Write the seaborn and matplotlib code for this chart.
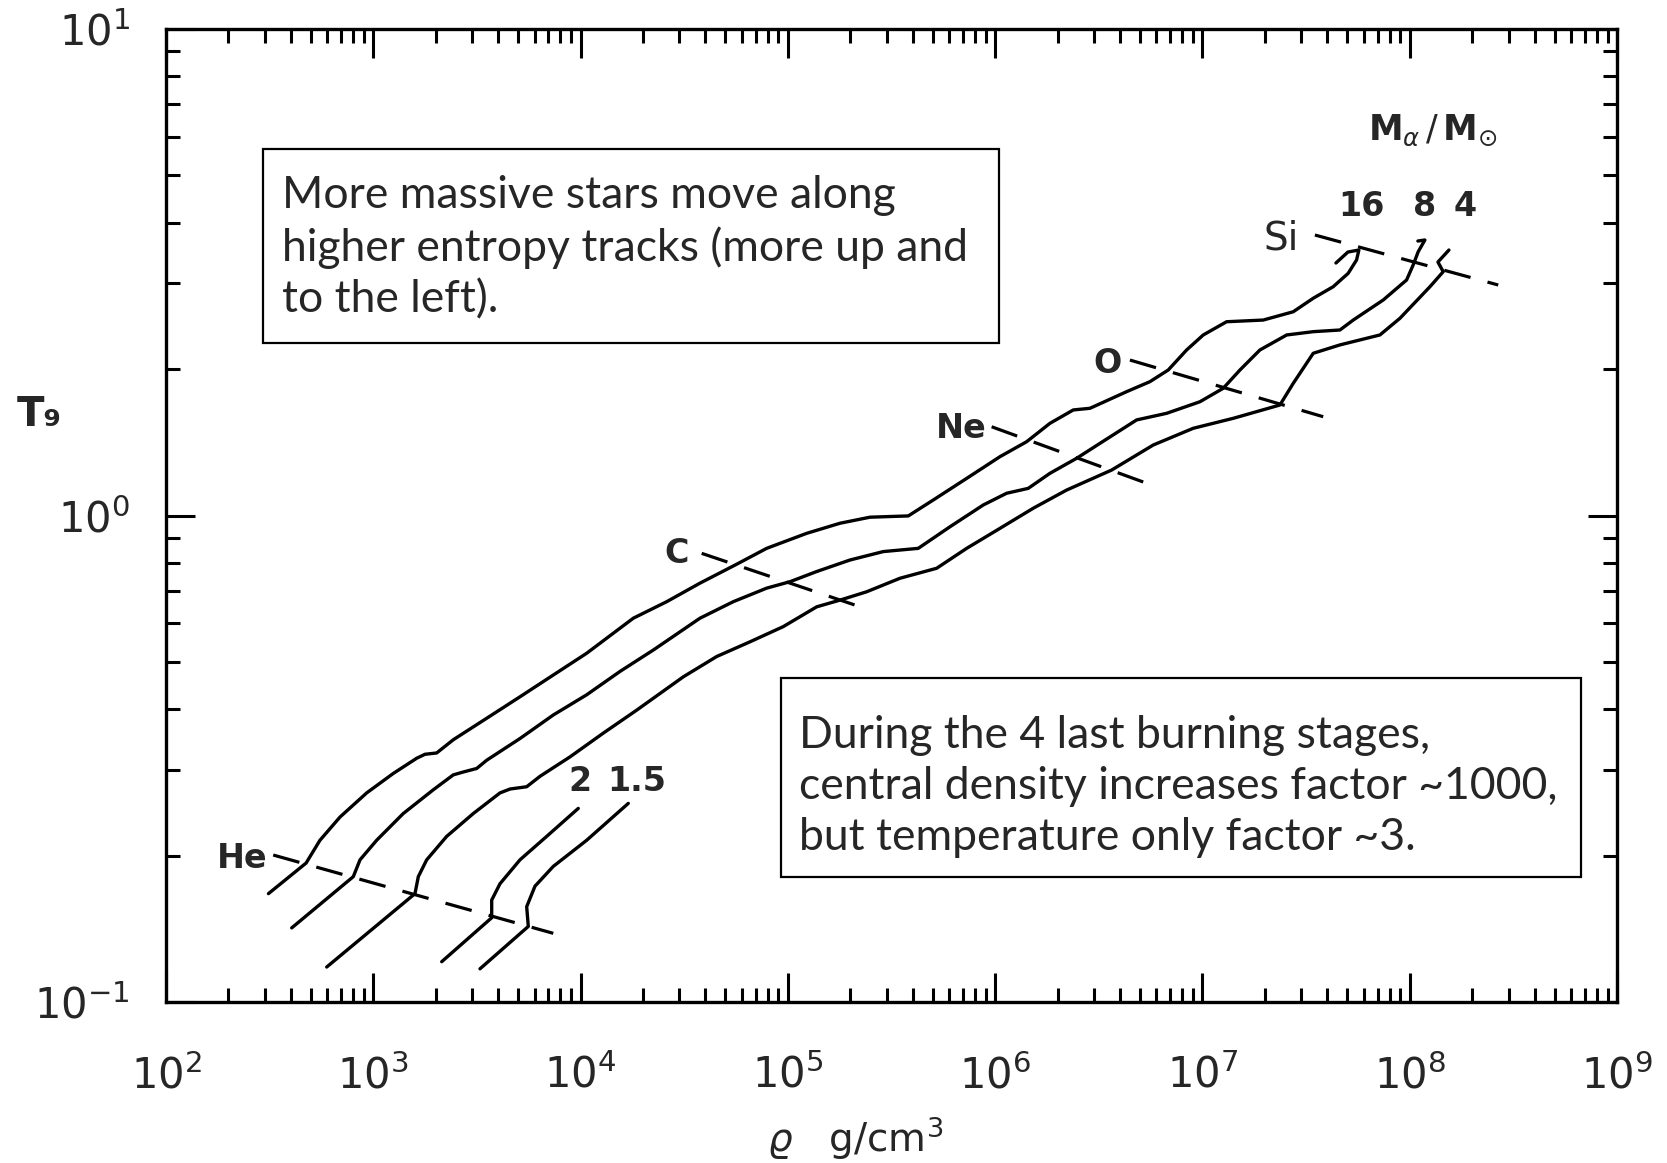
import matplotlib
matplotlib.use("Agg")
import matplotlib.pyplot as plt
from matplotlib import font_manager
from matplotlib.ticker import LogLocator, FuncFormatter, NullFormatter
from matplotlib.patches import Rectangle
import numpy as np
import pandas as pd
import seaborn as sns

# Central density (g/cm^3) and central temperature (T9) along each helium-core track
rho_16 = [312, 474, 553, 691, 929, 1249, 1620, 1776, 2022, 2432, 3524, 5102, 7385,
          10700, 17960, 26030, 37670, 56620, 79000, 123200, 178400, 249000, 381000,
          502700, 728800, 1.055e6, 1.419e6, 1.838e6, 2.382e6, 2.867e6, 4.309e6, 5.58e6,
          6.84e6, 8.39e6, 1.009e7, 1.308e7, 1.965e7, 2.742e7, 3.424e7, 4.274e7, 5.05e7,
          5.54e7, 5.685e7, 5.035e7, 4.406e7]
T9_16 = [0.167, 0.193, 0.215, 0.240, 0.269, 0.295, 0.317, 0.323, 0.325, 0.346, 0.383,
         0.424, 0.470, 0.521, 0.615, 0.665, 0.726, 0.794, 0.856, 0.919, 0.964, 0.992,
         0.998, 1.076, 1.192, 1.321, 1.418, 1.547, 1.648, 1.661, 1.797, 1.884, 1.991,
         2.189, 2.350, 2.502, 2.522, 2.623, 2.796, 2.953, 3.147, 3.351, 3.513, 3.480, 3.304]

rho_8 = [404, 801, 863, 1038, 1395, 1947, 2432, 2718, 3154, 3524, 5102, 7385, 10700,
         15490, 22430, 37670, 54530, 79000, 102400, 137700, 199300, 288600, 425600,
         605300, 876400, 1.136e6, 1.444e6, 1.838e6, 2.473e6, 3.203e6, 4.815e6, 6.72e6,
         9.72e6, 1.26e7, 1.517e7, 1.894e7, 2.549e7, 3.424e7, 4.607e7, 5.339e7, 7.45e7,
         9.66e7, 1.039e8, 1.099e8, 1.184e8, 1.095e8]
T9_8 = [0.142, 0.181, 0.196, 0.215, 0.244, 0.273, 0.293, 0.297, 0.302, 0.314, 0.348,
        0.389, 0.428, 0.478, 0.529, 0.615, 0.665, 0.709, 0.731, 0.767, 0.810, 0.843,
        0.856, 0.948, 1.051, 1.111, 1.137, 1.221, 1.311, 1.407, 1.572, 1.622, 1.713,
        1.826, 1.991, 2.189, 2.350, 2.387, 2.406, 2.522, 2.773, 3.049, 3.273, 3.485,
        3.684, 3.666]

rho_4 = [596, 1589, 1649, 1810, 2260, 3037, 4085, 4564, 5496, 6372, 8890, 12870, 18650,
         31300, 45350, 65660, 95020, 137700, 178400, 240000, 347400, 522200, 728800,
         1.055e6, 1.527e6, 2.213e6, 3.648e6, 5.79e6, 9.03e6, 1.408e7, 2.365e7, 2.742e7,
         3.424e7, 4.607e7, 7.18e7, 8.97e7, 1.252e8, 1.451e8, 1.368e8, 1.546e8]
T9_4 = [0.118, 0.167, 0.181, 0.196, 0.219, 0.244, 0.269, 0.274, 0.277, 0.291, 0.319,
        0.357, 0.398, 0.466, 0.513, 0.550, 0.591, 0.649, 0.670, 0.697, 0.743, 0.779,
        0.856, 0.941, 1.035, 1.128, 1.240, 1.396, 1.511, 1.584, 1.687, 1.869, 2.155,
        2.242, 2.350, 2.543, 2.953, 3.171, 3.319, 3.513]

rho_2 = [2138, 3726, 3726, 4085, 5102, 6863, 9748]
T9_2 = [0.121, 0.149, 0.162, 0.175, 0.196, 0.219, 0.250]

rho_1p5 = [3271, 5595, 5496, 6026, 7385, 10700, 16990]
T9_1p5 = [0.117, 0.143, 0.157, 0.173, 0.190, 0.215, 0.256]

masses = ["16", "8", "4", "2", "1.5"]

# Ignition lines of the successive burning stages
stages = ["He", "C", "Ne", "O", "Si"]
stage_rho = [[329, 7385], [38390, 249000], [961800, 5.38e6], [4.47e6, 3.825e7],
             [3.488e7, 2.673e8]]
stage_T9 = [[0.2005, 0.1384], [0.836, 0.639], [1.522, 1.165], [2.087, 1.596],
            [3.772, 2.977]]

x_major = [1e2, 1e3, 1e4, 1e5, 1e6, 1e7, 1e8, 1e9]
y_major = [0.1, 1.0, 10.0]

note_upper = "More massive stars move along\nhigher entropy tracks (more up and\nto the left)."
note_lower = ("During the 4 last burning stages,\ncentral density increases factor ~1000,\n"
              "but temperature only factor ~3.")

# ---------------------------------------------------------------- styling
sns.set_style("ticks")
installed = {f.name for f in font_manager.fontManager.ttflist}
axis_font = "Liberation Sans Narrow" if "Liberation Sans Narrow" in installed else "DejaVu Sans"
note_font = "Lato" if "Lato" in installed else "DejaVu Sans"
plt.rcParams["font.family"] = [axis_font, "DejaVu Sans"]
plt.rcParams["mathtext.fontset"] = "custom"
plt.rcParams["mathtext.rm"] = axis_font
plt.rcParams["mathtext.sf"] = axis_font
plt.rcParams["mathtext.it"] = axis_font + ":italic"
plt.rcParams["mathtext.bf"] = axis_font + ":bold"

tracks = pd.concat(
    [pd.DataFrame({"rho": r, "T9": t, "mass": m})
     for m, r, t in zip(masses,
                        [rho_16, rho_8, rho_4, rho_2, rho_1p5],
                        [T9_16, T9_8, T9_4, T9_2, T9_1p5])],
    ignore_index=True)
ignition = pd.concat(
    [pd.DataFrame({"rho": r, "T9": t, "stage": s})
     for s, r, t in zip(stages, stage_rho, stage_T9)],
    ignore_index=True)

W, H = 1667, 1163
fig = plt.figure(figsize=(W / 100, H / 100), dpi=100)
ax = fig.add_axes([166 / W, 161 / H, 1451 / W, 973 / H])
ax.set_xscale("log")
ax.set_yscale("log")

sns.lineplot(data=tracks, x="rho", y="T9", hue="mass", units="mass", estimator=None,
             sort=False, palette=["black"] * len(masses), legend=False, lw=2.4, ax=ax)
sns.lineplot(data=ignition, x="rho", y="T9", units="stage", estimator=None, sort=False,
             color="black", lw=2.3, linestyle=(0, (8.5, 5.5)), legend=False, ax=ax)

# ---------------------------------------------------------------- axes
ax.set_xticks(x_major)
ax.set_yticks(y_major)
ax.xaxis.set_minor_locator(LogLocator(base=10, subs=np.arange(2, 10), numticks=20))
ax.yaxis.set_minor_locator(LogLocator(base=10, subs=np.arange(2, 10), numticks=10))
pow_fmt = FuncFormatter(lambda v, _: r"$10^{%d}$" % int(round(np.log10(v))))
ax.xaxis.set_major_formatter(pow_fmt)
ax.yaxis.set_major_formatter(pow_fmt)
ax.xaxis.set_minor_formatter(NullFormatter())
ax.yaxis.set_minor_formatter(NullFormatter())
ax.set_xlim(1e2, 1e9)
ax.set_ylim(0.1, 10)

ax.tick_params(which="both", direction="in", top=True, right=True, color="black",
               width=2.2)
ax.tick_params(which="major", length=21)
ax.tick_params(which="minor", length=10)
ax.tick_params(axis="x", which="major", labelsize=30, pad=38)
ax.tick_params(axis="y", which="major", labelsize=30, pad=26)
for sp in ax.spines.values():
    sp.set_linewidth(2.4)
    sp.set_color("black")

ax.set_xlabel(r"$\varrho$   g/cm$^3$", fontsize=28)
ax.xaxis.set_label_coords(0.475, -0.115)
ax.set_ylabel("T\u2089", fontsize=29, fontweight="bold", rotation=0, ha="center",
              va="center", family=["DejaVu Sans"])
ax.yaxis.set_label_coords(-0.087, 0.603)

# ---------------------------------------------------------------- labels
bold = dict(fontsize=24, fontweight="bold", ha="center", va="center",
            family=["DejaVu Sans"])
ax.text(232, 0.197, "He", **bold)
ax.text(29000, 0.836, "C", **bold)
ax.text(690000, 1.511, "Ne", **bold)
ax.text(3.5e6, 2.055, "O", **bold)
ax.text(2.41e7, 3.713, "Si", fontsize=28, ha="center", va="center",
        family=["DejaVu Sans"])
ax.text(5.86e7, 4.31, "16", **bold)
ax.text(1.184e8, 4.31, "8", **bold)
ax.text(1.846e8, 4.31, "4", **bold)
ax.text(9934, 0.2836, "2", **bold)
ax.text(18650, 0.2836, "1.5", **bold)
ax.text(1.29e8, 6.2, r"$\mathbf{M}_{\alpha}\,/\,\mathbf{M}_{\odot}$",
        fontsize=25, ha="center", va="center")

# ---------------------------------------------------------------- notes
def note(x0, y0, x1, y1, tx, ty, text):
    ax.add_patch(Rectangle((x0, y0), x1 - x0, y1 - y0, transform=ax.transAxes,
                           facecolor="white", edgecolor="black", lw=1.6, zorder=5))
    ax.text(tx, ty, text, transform=ax.transAxes, ha="left", va="center",
            fontsize=32, family=[note_font, "DejaVu Sans"], linespacing=1.3, zorder=6)

note(0.0666, 0.6769, 0.5742, 0.8769, 0.0797, 0.7752, note_upper)
note(0.4241, 0.1285, 0.9750, 0.3328, 0.4364, 0.2214, note_lower)

fig.savefig("out.png", dpi=100, facecolor="white")
